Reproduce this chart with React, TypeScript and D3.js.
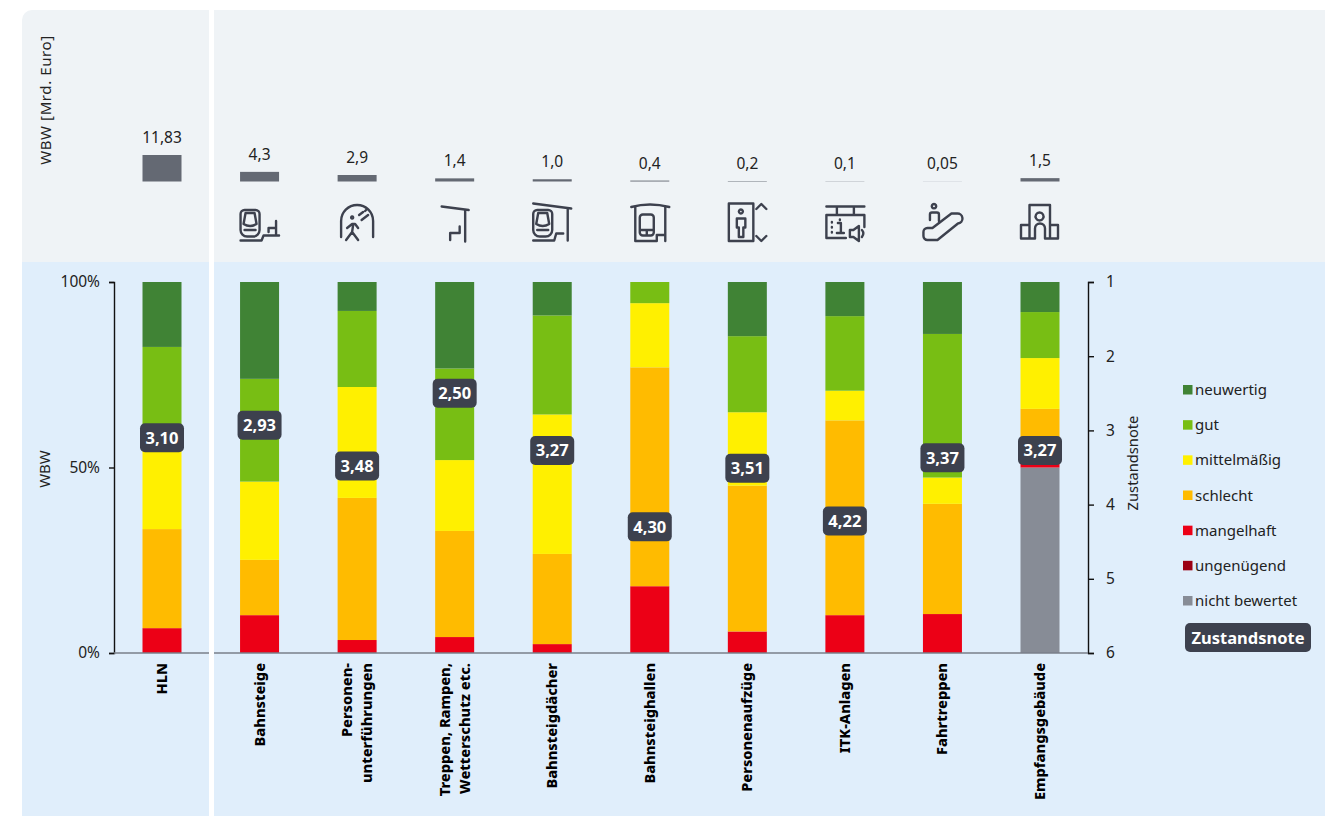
import { useEffect, useRef } from "react";
import * as d3 from "d3";

const categories = ["HLN", "Bahnsteige", "Personen-\nunterführungen", "Treppen, Rampen,\nWetterschutz etc.", "Bahnsteigdächer", "Bahnsteighallen", "Personenaufzüge", "ITK-Anlagen", "Fahrtreppen", "Empfangsgebäude"];
const wbwLabels = ["11,83", "4,3", "2,9", "1,4", "1,0", "0,4", "0,2", "0,1", "0,05", "1,5"];
const wbwValues = [11.83, 4.3, 2.9, 1.4, 1.0, 0.4, 0.2, 0.1, 0.05, 1.5];
const scoreValues = [3.1, 2.93, 3.48, 2.5, 3.27, 4.3, 3.51, 4.22, 3.37, 3.27];

// share of WBW in percent, one value per category
const neuwertig = [17.5, 26.1, 7.8, 23.3, 9.0, 0, 14.6, 9.2, 14.0, 8.1];
const gut = [25.1, 27.7, 20.5, 24.7, 26.7, 5.7, 20.5, 20.1, 38.7, 12.4];
const mittelmaessig = [24.0, 21.1, 29.9, 19.1, 37.6, 17.3, 19.8, 8.0, 7.1, 13.7];
const schlecht = [26.7, 14.9, 38.3, 28.6, 24.3, 59.0, 39.3, 52.5, 29.7, 14.6];
const mangelhaft = [6.7, 10.2, 3.5, 4.3, 2.4, 18.0, 5.8, 10.2, 10.5, 1.2];
const ungenuegend = [0, 0, 0, 0, 0, 0, 0, 0, 0, 0];
const nichtBewertet = [0, 0, 0, 0, 0, 0, 0, 0, 0, 50];

const legendLabels = ["neuwertig", "gut", "mittelmäßig", "schlecht", "mangelhaft", "ungenügend", "nicht bewertet"];
const legendColors = ["#408335", "#78be14", "#fff000", "#ffbb00", "#ec0016", "#9b0014", "#878c96"];

const stackKeys = ["nicht bewertet", "ungenügend", "mangelhaft", "schlecht", "mittelmäßig", "gut", "neuwertig"];
const seriesByKey: Record<string, number[]> = {
  neuwertig,
  gut,
  "mittelmäßig": mittelmaessig,
  schlecht,
  mangelhaft,
  "ungenügend": ungenuegend,
  "nicht bewertet": nichtBewertet,
};

const FONT = "'Noto Sans', sans-serif";
const DARK = "#3d414e";
const BAR_W = 39;

const x = d3.scalePoint<string>().domain(categories).range([162, 1040]);
const yPct = d3.scaleLinear().domain([0, 100]).range([653, 282]);
const yScore = d3.scaleLinear().domain([1, 6]).range([282, 653]);
const yWbw = d3.scaleLinear().domain([0, 11.83]).range([181.5, 155]);
const legendY = d3.scalePoint<string>().domain(legendLabels).range([390, 601]);
const color = d3.scaleOrdinal<string, string>().domain(legendLabels).range(legendColors);

const rows = categories.map((c, i) => {
  const row: Record<string, number | string> = { category: c };
  stackKeys.forEach((k) => (row[k] = seriesByKey[k][i]));
  return row;
});
const stacked = d3.stack<any>().keys(stackKeys)(rows);

// icon outlines in a 40x40 box, HLN has none
const icons: (string[] | null)[] = [
  null,
  [
    "M5 7h11a4 4 0 0 1 4 4v16a6.500 6.500 0 0 1-6.500 6.500h-6a6.500 6.500 0 0 1-6.500-6.500v-16a4 4 0 0 1 4-4z",
    "M6 10h9l2 11q-6.500 4-13 0zM5 27h11",
    "M1 37.500h21l2-5h15.500M29 29v-4h7.500M36.500 18v14",
  ],
  ["M4 34V18a16 16 0 0 1 32 0V34", "M10 25l5-4h3l3 4M16 22l-1 7-6 8M15 29l6 8", "M22 12l4-3M24.500 17l6.500-5M28 8l2-2", "M15 13.500a1 1 0 1 0 .1 0z"],
  ["M7 3.500L34 7M30.500 7V38.500", "M15.500 37v-7h9.500v-6.500"],
  [
    "M1 .5L39 5.500M35.500 5.500V37.500",
    "M5 7h11a4 4 0 0 1 4 4v16a6.500 6.500 0 0 1-6.500 6.500h-6a6.500 6.500 0 0 1-6.500-6.500v-16a4 4 0 0 1 4-4z",
    "M6 10h9l2 11q-6.500 4-13 0zM5 27h11",
    "M1 37.500h21l2-7h7",
  ],
  [
    "M1.500 4Q20-1 39.500 4M5.500 4V38h21.500v-6h8.500M35.500 4V38",
    "M13 11.500h8a3 3 0 0 1 3 3v15a3 3 0 0 1-3 3h-8a3 3 0 0 1-3-3v-15a3 3 0 0 1 3-3zM10 27h14M17 27v5",
  ],
  [
    "M1.500 .5H26V38H1.500z",
    "M9.500 15.500h8.500v9h-2V34h-4.500V24.500h-2z",
    "M13.500 6.500a2 2 0 1 0 .1 0z",
    "M29 6L34 1L39 6M29 33L34 38L39 33",
  ],
  [
    "M1.500 3.500H39.500M12 3.500V12M29 3.500V12M1.500 12H39.500V24M1.500 12V35H21",
    "M13 20h3v9M12 30h7M15 16.500v.5M7 19v.5M7 24v.5M7 29v.5",
    "M25 27h3.500l5.500-4v15l-5.500-4H25zM37 27q3 3 0 7",
  ],
  [
    "M7.500 17V11.500a2 2 0 0 1 2-2h5a2 2 0 0 1 2 2V18",
    "M29 10.500H34.500a5 5 0 0 1 1 10L15 37H5a4 4 0 0 1-4-4V29a4 4 0 0 1 4-4h5z",
    "M11.500 1a2.200 2.200 0 1 0 .1 0z",
  ],
  [
    "M9.500 22V2H30V22H38V35.500H25V25.500a5 5 0 0 0-10 0V35.500H1V22zM9.500 22V35.500M30 22V35.500",
    "M19.500 9.500a4 4 0 1 0 .1 0z",
  ],
];

const App = () => {
  const leftAxisRef = useRef<SVGGElement>(null);
  const rightAxisRef = useRef<SVGGElement>(null);

  useEffect(() => {
    const left = d3.select(leftAxisRef.current!);
    left.selectAll("*").remove();
    left.call(
      d3.axisLeft(yPct).tickValues([0, 50, 100]).tickSize(5).tickPadding(9).tickFormat((d) => `${d}%`) as any,
    );
    const right = d3.select(rightAxisRef.current!);
    right.selectAll("*").remove();
    right.call(d3.axisRight(yScore).ticks(6).tickSize(6).tickPadding(12).tickFormat(d3.format("d")) as any);
    [left, right].forEach((g) => {
      g.attr("font-family", FONT).attr("font-size", 15.5);
      g.selectAll("text").attr("fill", "#222");
      g.selectAll("path,line").attr("stroke", "#111").attr("stroke-width", 1.4);
    });
  }, []);

  return (
    <svg width={1325} height={816} style={{ position: "absolute", left: 0, top: 0, fontFamily: FONT }}>
      {/* panels */}
      <path d="M22 816V20a10 10 0 0 1 10-10H1325V816z" fill="#eff3f6" />
      <rect x={22} y={262} width={1303} height={554} fill="#e0eefb" />
      <rect x={209} y={10} width={5} height={806} fill="#fff" />

      <text transform="translate(51,100) rotate(-90)" textAnchor="middle" fontSize={15} letterSpacing={0.6} fill="#222">
        WBW [Mrd. Euro]
      </text>
      <text transform="translate(50,469) rotate(-90)" textAnchor="middle" fontSize={15} fill="#222">
        WBW
      </text>
      <text transform="translate(1138,463) rotate(-90)" textAnchor="middle" fontSize={14.7} fill="#222">
        Zustandsnote
      </text>

      {/* WBW bars and icons */}
      {categories.map((c, i) => (
        <g key={c}>
          <rect
            x={x(c)! - BAR_W / 2}
            y={yWbw(wbwValues[i])}
            width={BAR_W}
            height={yWbw(0) - yWbw(wbwValues[i])}
            fill="#646973"
          />
          <text x={x(c)} y={yWbw(wbwValues[i]) - 12} textAnchor="middle" fontSize={15.5} fill="#222">
            {wbwLabels[i]}
          </text>
          {icons[i] && (
            <g
              transform={`translate(${x(c)! - 20},203)`}
              fill="none"
              stroke={DARK}
              strokeWidth={2.4}
              strokeLinecap="round"
              strokeLinejoin="round"
            >
              {icons[i]!.map((d, j) => (
                <path key={j} d={d} />
              ))}
            </g>
          )}
        </g>
      ))}

      {/* stacked bars */}
      {stacked.map((s) => (
        <g key={s.key} fill={color(s.key)}>
          {s.map((d) =>
            d[1] > d[0] ? (
              <rect
                key={d.data.category}
                x={x(d.data.category)! - BAR_W / 2}
                y={yPct(d[1])}
                width={BAR_W}
                height={yPct(d[0]) - yPct(d[1])}
              />
            ) : null,
          )}
        </g>
      ))}

      <g ref={leftAxisRef} transform="translate(114,0)" />
      <g ref={rightAxisRef} transform="translate(1088,0)" />
      <line x1={114} x2={209} y1={653} y2={653} stroke="#7a7f8a" strokeWidth={1.6} />
      <line x1={214} x2={1088} y1={653} y2={653} stroke="#7a7f8a" strokeWidth={1.6} />

      {/* score badges */}
      {categories.map((c, i) => (
        <g key={c} transform={`translate(${x(c)},${yScore(scoreValues[i])})`}>
          <rect x={-22} y={-14.5} width={44} height={29} rx={5} fill={DARK} />
          <text y={6} textAnchor="middle" fontSize={16.500} fontWeight={700} fill="#fff">
            {scoreValues[i].toFixed(2).replace(".", ",")}
          </text>
        </g>
      ))}

      {/* category labels */}
      {categories.map((c) => {
        const lines = c.split("\n");
        return (
          <g key={c} transform={`translate(${x(c)},663) rotate(-90)`}>
            {lines.map((line, j) => (
              <text
                key={line}
                y={(j - (lines.length - 1) / 2) * 20 + 5}
                textAnchor="end"
                fontSize={14.6}
                fontWeight={800}
                fill="#000"
              >
                {line}
              </text>
            ))}
          </g>
        );
      })}

      {/* legend */}
      {legendLabels.map((l) => (
        <g key={l} transform={`translate(1183,${legendY(l)})`}>
          <rect x={0} y={-5} width={9.500} height={9.500} fill={color(l)} />
          <text x={12} y={5} fontSize={15} fill="#222">
            {l}
          </text>
        </g>
      ))}
      <rect x={1185} y={623} width={126} height={29} rx={5} fill={DARK} />
      <text x={1248} y={644} textAnchor="middle" fontSize={16.500} fontWeight={700} fill="#fff">
        Zustandsnote
      </text>
    </svg>
  );
};

export default App;
